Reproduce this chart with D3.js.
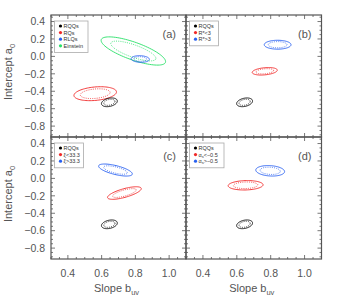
<!DOCTYPE html>
<html><head><meta charset="utf-8">
<script src="https://cdn.jsdelivr.net/npm/d3@7"></script>
<style>
html,body{margin:0;padding:0;background:#fff;}
svg{display:block;font-family:"Liberation Sans",Arial,sans-serif;}
</style></head>
<body><svg id="c" width="338" height="307"></svg>
<script>
// ---- data ----
const xTicks = [0.4, 0.6, 0.8, 1.0];
const yTicks = [0.4, 0.2, 0.0, -0.2, -0.4, -0.6, -0.8];
const xDomain = [0.3, 1.1];
const yDomain = [-0.925, 0.475];
const panelLabels = ["(a)", "(b)", "(c)", "(d)"];
const seriesNames = [
  ["RQQs", "RQs", "RLQs", "Einstein"],
  ["RQQs", "R*<3", "R*>3"],
  ["RQQs", "\u03BE<33.3", "\u03BE>33.3"],
  ["RQQs", "\u03B1s<\u22120.5", "\u03B1s>\u22120.5"]
];
// ellipse centres (slope, intercept)
const centerX = [
  [0.646, 0.562, 0.829, 0.788],
  [0.646, 0.765, 0.841],
  [0.646, 0.735, 0.682],
  [0.646, 0.652, 0.797]
];
const centerY = [
  [-0.527, -0.428, -0.030, 0.062],
  [-0.527, -0.171, 0.134],
  [-0.527, -0.168, 0.096],
  [-0.527, -0.079, 0.087]
];
// ellipse half-extent in slope and intercept, and correlation
const spreadX = [
  [0.047, 0.126, 0.054, 0.191],
  [0.047, 0.074, 0.079],
  [0.047, 0.100, 0.100],
  [0.047, 0.103, 0.085]
];
const spreadY = [
  [0.050, 0.080, 0.038, 0.162],
  [0.050, 0.043, 0.051],
  [0.050, 0.072, 0.069],
  [0.050, 0.054, 0.060]
];
const corr = [
  [0.3, 0.25, -0.1, -0.75],
  [0.3, 0.3, 0.0],
  [0.3, 0.7, -0.65],
  [0.3, 0.1, -0.15]
];
const innerScale = 0.7;

// ---- styles / layout ----
const colors = ["#000000", "#f02828", "#2860f0", "#28e068"];
const xs = [51, 186, 321.5];
const ys = [15, 137, 259];
const textCol = "#555";

const svg = d3.select("#c");

function ellipsePath(cx, cy, sx, sy, r, k, x, y) {
  const pts = d3.range(0, 361, 4).map(a => {
    const t = a * Math.PI / 180;
    const dx = k * sx * Math.cos(t);
    const dy = k * sy * (r * Math.cos(t) + Math.sqrt(1 - r * r) * Math.sin(t));
    return [x(cx + dx), y(cy + dy)];
  });
  return d3.line()(pts) + "Z";
}

for (let p = 0; p < 4; p++) {
  const col = p % 2, row = Math.floor(p / 2);
  const x = d3.scaleLinear(xDomain, [xs[col], xs[col + 1]]);
  const y = d3.scaleLinear(yDomain, [ys[row + 1], ys[row]]);
  const g = svg.append("g");

  const n = seriesNames[p].length;
  for (let i = n - 1; i >= 0; i--) {
    const c = colors[i];
    g.append("path")
      .attr("d", ellipsePath(centerX[p][i], centerY[p][i], spreadX[p][i], spreadY[p][i], corr[p][i], 1, x, y))
      .attr("fill", "none").attr("stroke", c).attr("stroke-width", 0.9);
    g.append("path")
      .attr("d", ellipsePath(centerX[p][i], centerY[p][i], spreadX[p][i], spreadY[p][i], corr[p][i], innerScale, x, y))
      .attr("fill", "none").attr("stroke", c).attr("stroke-width", 0.8)
      .attr("stroke-dasharray", "1,1.2");
  }

  g.append("rect")
    .attr("x", xs[col]).attr("y", ys[row])
    .attr("width", xs[col + 1] - xs[col]).attr("height", ys[row + 1] - ys[row])
    .attr("fill", "none").attr("stroke", "#555").attr("stroke-width", 1.2);

  const xMinor = d3.range(0.3, 1.1001, 0.05).map(v => +v.toFixed(2));
  const yMinor = d3.range(-0.9, 0.4501, 0.05).map(v => +v.toFixed(2));
  const tk = g.append("g").attr("stroke", "#555").attr("stroke-width", 0.8);
  xMinor.forEach(v => {
    const major = xTicks.some(t => Math.abs(t - v) < 1e-6);
    const L = major ? 4 : 2;
    tk.append("line").attr("x1", x(v)).attr("x2", x(v)).attr("y1", ys[row + 1]).attr("y2", ys[row + 1] - L);
    tk.append("line").attr("x1", x(v)).attr("x2", x(v)).attr("y1", ys[row]).attr("y2", ys[row] + L);
  });
  yMinor.forEach(v => {
    const major = yTicks.some(t => Math.abs(t - v) < 1e-6);
    const L = major ? 4 : 2;
    tk.append("line").attr("y1", y(v)).attr("y2", y(v)).attr("x1", xs[col]).attr("x2", xs[col] + L);
    tk.append("line").attr("y1", y(v)).attr("y2", y(v)).attr("x1", xs[col + 1]).attr("x2", xs[col + 1] - L);
  });

  if (col === 0) {
    yTicks.forEach(v => {
      g.append("text").attr("x", xs[0] - 6).attr("y", y(v)).attr("dy", "0.36em")
        .attr("text-anchor", "end").attr("font-size", 10.5).attr("fill", textCol)
        .text(v < 0 ? "\u2212" + Math.abs(v).toFixed(1) : v.toFixed(1));
    });
    const yl = g.append("text")
      .attr("transform", `translate(12,${(ys[row] + ys[row + 1]) / 2 - 4}) rotate(-90)`)
      .attr("text-anchor", "middle").attr("font-size", 11).attr("fill", textCol);
    yl.append("tspan").text("Intercept a");
    yl.append("tspan").attr("font-size", 7.5).attr("dy", 2.5).text("0");
  }
  if (row === 1) {
    xTicks.forEach(v => {
      g.append("text").attr("x", x(v)).attr("y", 277)
        .attr("text-anchor", "middle").attr("font-size", 10.5).attr("fill", textCol)
        .text(v.toFixed(1));
    });
    const xl = g.append("text")
      .attr("x", (xs[col] + xs[col + 1]) / 2 - 2).attr("y", 292)
      .attr("text-anchor", "middle").attr("font-size", 11).attr("fill", textCol);
    xl.append("tspan").text("Slope b");
    xl.append("tspan").attr("font-size", 7.5).attr("dy", 2.5).text("uv");
  }

  g.append("text").attr("x", xs[col + 1] - 10).attr("y", ys[row] + 23)
    .attr("text-anchor", "end").attr("font-size", 11).attr("fill", textCol)
    .text(panelLabels[p]);

  const lx = xs[col] + 3.5, ly = ys[row] + 6;
  const lw = p === 0 ? 33.5 : (p === 3 ? 34.5 : 29);
  const lh = 5 + n * 6.6;
  const lg = g.append("g");
  lg.append("rect").attr("x", lx).attr("y", ly).attr("width", lw).attr("height", lh)
    .attr("fill", "#fff").attr("stroke", "#aaa").attr("stroke-width", 0.8);
  seriesNames[p].forEach((name, i) => {
    const yy = ly + 5 + i * 6.6;
    lg.append("circle").attr("cx", lx + 6).attr("cy", yy).attr("r", 1.6).attr("fill", colors[i]);
    const t = lg.append("text").attr("x", lx + 9).attr("y", yy).attr("dy", "0.35em")
      .attr("font-size", 5.5).attr("fill", "#333");
    if (p === 3 && i > 0) {
      t.append("tspan").text("\u03B1");
      t.append("tspan").attr("font-size", 4).attr("dy", 1).text("s");
      t.append("tspan").attr("dy", -1).text(name.slice(2));
    } else {
      t.text(name);
    }
  });
}
</script>
</body></html>
